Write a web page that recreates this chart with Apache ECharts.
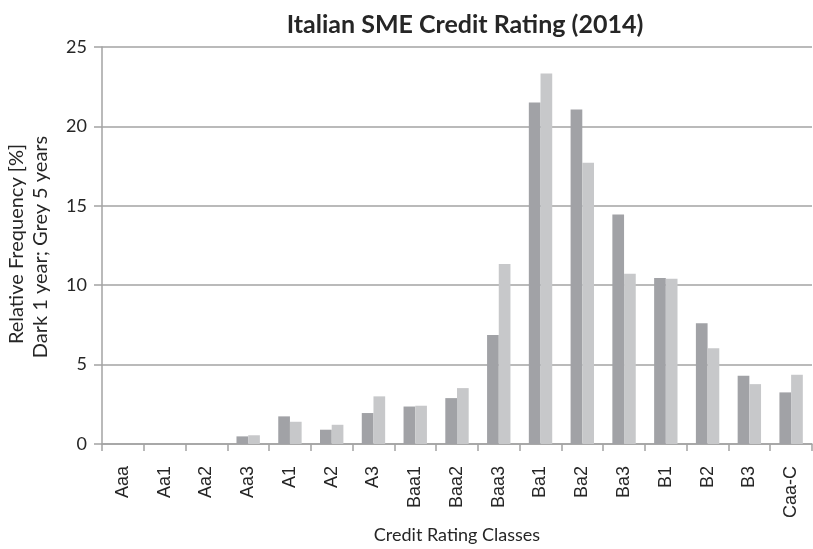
<!DOCTYPE html>
<html>
<head>
<meta charset="utf-8">
<script src="https://cdn.jsdelivr.net/npm/echarts@6/dist/echarts.min.js"></script>
<style>
  html, body { margin: 0; padding: 0; background: #fff; }
  #chart { width: 813px; height: 549px; }
</style>
</head>
<body>
<div id="chart"></div>
<script>
// Rating classes on the horizontal axis
const ratingClasses = ['Aaa', 'Aa1', 'Aa2', 'Aa3', 'A1', 'A2', 'A3', 'Baa1', 'Baa2', 'Baa3',
  'Ba1', 'Ba2', 'Ba3', 'B1', 'B2', 'B3', 'Caa-C'];

// Relative frequency [%], 1-year horizon (dark bars)
const oneYear = [0, 0, 0, 0.48, 1.74, 0.9, 1.95, 2.36, 2.89, 6.87,
  21.5, 21.07, 14.45, 10.45, 7.6, 4.3, 3.25];

// Relative frequency [%], 5-year horizon (grey bars)
const fiveYear = [0, 0, 0, 0.55, 1.4, 1.21, 3.0, 2.41, 3.52, 11.34,
  23.33, 17.71, 10.72, 10.4, 6.03, 3.77, 4.36];

const yTicks = { min: 0, max: 25, interval: 5 };

const chart = echarts.init(document.getElementById('chart'), null, { renderer: 'canvas' });

const axisGrey = '#a3a3a3';
const textDark = '#262626';

chart.setOption({
  animation: false,
  backgroundColor: '#ffffff',
  title: {
    text: 'Italian SME Credit Rating (2014)',
    left: 460,
    top: 7,
    textAlign: 'center',
    textStyle: { fontFamily: 'Lato', fontWeight: 'bold', fontSize: 25, color: textDark }
  },
  grid: { left: 102, right: 1, top: 47, bottom: 105, containLabel: false, outerBoundsMode: 'none' },
  xAxis: {
    type: 'category',
    data: ratingClasses,
    boundaryGap: true,
    axisLine: { lineStyle: { color: axisGrey, width: 1.5 } },
    axisTick: { show: true, alignWithLabel: false, length: 7, lineStyle: { color: axisGrey, width: 1.5 } },
    axisLabel: {
      rotate: 90,
      margin: 22,
      interval: 0,
      fontFamily: 'Liberation Sans',
      fontSize: 18,
      color: textDark
    },
    name: 'Credit Rating Classes',
    nameLocation: 'middle',
    nameGap: 82,
    nameTextStyle: { fontFamily: 'Lato', fontSize: 18, color: textDark }
  },
  yAxis: {
    type: 'value',
    min: yTicks.min,
    max: yTicks.max,
    interval: yTicks.interval,
    axisLine: { show: true, lineStyle: { color: axisGrey, width: 1.5 } },
    axisTick: { show: true, length: 8, lineStyle: { color: axisGrey, width: 1.5 } },
    axisLabel: { margin: 15, fontFamily: 'Lato', fontSize: 18, color: textDark },
    splitLine: { show: true, lineStyle: { color: axisGrey, width: 1.5 } }
  },
  graphic: [
    {
      type: 'text',
      x: 17,
      y: 244,
      rotation: Math.PI / 2,
      style: {
        text: 'Relative Frequency [%]',
        fontFamily: 'Lato', fontSize: 20, fill: textDark,
        textAlign: 'center', textVerticalAlign: 'middle'
      }
    },
    {
      type: 'text',
      x: 41,
      y: 247,
      rotation: Math.PI / 2,
      style: {
        text: 'Dark 1 year; Grey 5 years',
        fontFamily: 'Lato', fontSize: 20, fill: textDark,
        textAlign: 'center', textVerticalAlign: 'middle'
      }
    }
  ],
  series: [
    {
      name: '1 year',
      type: 'bar',
      data: oneYear,
      barGap: '0%',
      barCategoryGap: '44%',
      itemStyle: { color: '#a1a2a6' }
    },
    {
      name: '5 years',
      type: 'bar',
      data: fiveYear,
      itemStyle: { color: '#c7c8ca' }
    }
  ]
});
</script>
</body>
</html>
